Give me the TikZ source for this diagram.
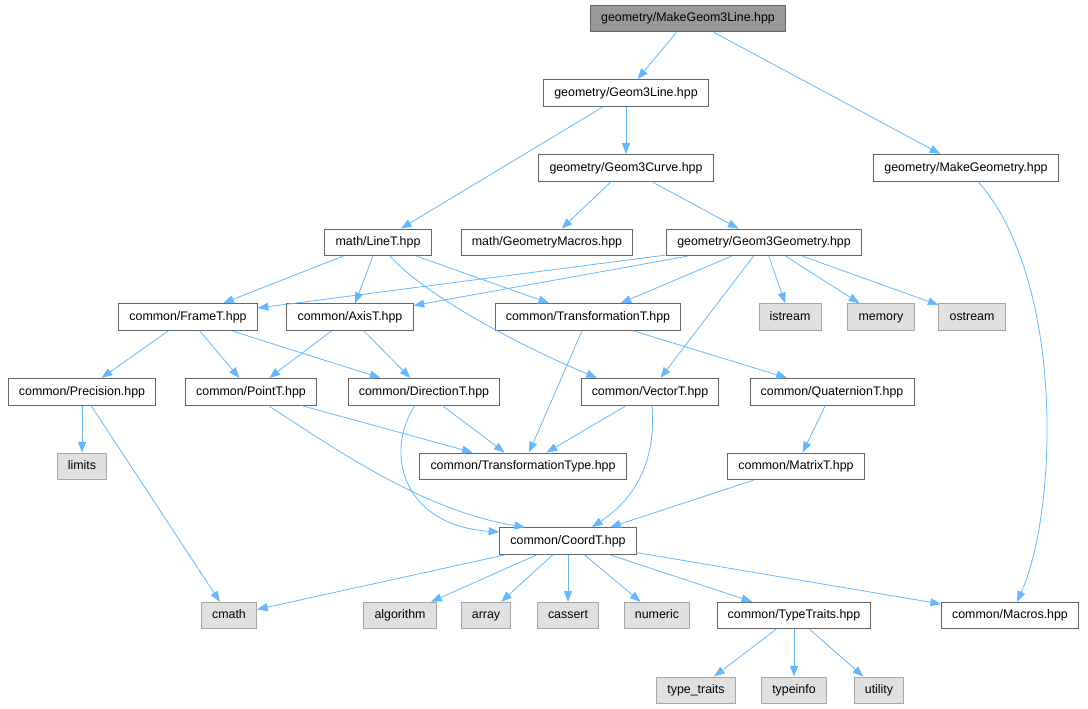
\documentclass[tikz,border=0pt]{standalone}
\usepackage{fontspec}
\setmainfont{Liberation Sans}
\usetikzlibrary{arrows.meta,calc}
\definecolor{edgeblue}{HTML}{63B8FF}
\definecolor{boxline}{HTML}{666666}
\definecolor{sysline}{HTML}{A6A6A6}
\definecolor{sysfill}{HTML}{E0E0E0}
\definecolor{rootfill}{HTML}{999999}

\begin{document}
\begin{tikzpicture}[x=0.75pt,y=-0.75pt,>={Triangle[length=8pt,width=6pt]},
  file/.style={draw=boxline,fill=white,line width=0.7pt,inner xsep=8pt,minimum height=20pt,
    text height=7pt,text depth=2pt,font=\fontsize{9.3}{11}\selectfont},
  sys/.style={file,draw=sysline,fill=sysfill},
  root/.style={file,fill=rootfill},
  dep/.style={->,color=edgeblue,line width=0.6pt}]
\useasboundingbox (0,0) rectangle (1088,709);

% headers
\node[root] (mk3line) at (688,18.5) {geometry/MakeGeom3Line.hpp};
\node[file] (geom3line) at (626,93) {geometry/Geom3Line.hpp};
\node[file] (geom3curve) at (626,167.7) {geometry/Geom3Curve.hpp};
\node[file] (makegeo) at (966,167.7) {geometry/MakeGeometry.hpp};
\node[file] (linet) at (378,242.4) {math/LineT.hpp};
\node[file] (geomacros) at (547,242.4) {math/GeometryMacros.hpp};
\node[file] (geom3geo) at (764,242.4) {geometry/Geom3Geometry.hpp};
\node[file] (framet) at (188,317) {common/FrameT.hpp};
\node[file] (axist) at (350,317) {common/AxisT.hpp};
\node[file] (transft) at (588,317) {common/TransformationT.hpp};
\node[sys] (istream) at (790,317) {istream};
\node[sys] (memory) at (881,317) {memory};
\node[sys] (ostream) at (972,317) {ostream};
\node[file] (precision) at (82,391.7) {common/Precision.hpp};
\node[file] (pointt) at (251,391.7) {common/PointT.hpp};
\node[file] (directiont) at (424,391.7) {common/DirectionT.hpp};
\node[file] (vectort) at (650,391.7) {common/VectorT.hpp};
\node[file] (quatt) at (832,391.7) {common/QuaternionT.hpp};
\node[sys] (limits) at (82,466.3) {limits};
\node[file] (transftype) at (523,466.3) {common/TransformationType.hpp};
\node[file] (matrixt) at (796,466.3) {common/MatrixT.hpp};
\node[file] (coordt) at (568,541) {common/CoordT.hpp};
\node[sys] (cmath) at (229,615.6) {cmath};
\node[sys] (algorithm) at (400,615.6) {algorithm};
\node[sys] (array) at (486,615.6) {array};
\node[sys] (cassert) at (568,615.6) {cassert};
\node[sys] (numeric) at (657,615.6) {numeric};
\node[file] (typetraits) at (794,615.6) {common/TypeTraits.hpp};
\node[file] (macros) at (1010,615.6) {common/Macros.hpp};
\node[sys] (stdtraits) at (696,690.3) {type\_traits};
\node[sys] (typeinfo) at (794,690.3) {typeinfo};
\node[sys] (utility) at (879,690.3) {utility};

% includes
\foreach \from/\to in {mk3line/geom3line, mk3line/makegeo,
    geom3line/geom3curve, geom3line/linet,
    geom3curve/geomacros, geom3curve/geom3geo,
    linet/framet, linet/axist, linet/transft,
    geom3geo/framet, geom3geo/axist, geom3geo/transft, geom3geo/vectort,
    geom3geo/istream, geom3geo/memory, geom3geo/ostream,
    framet/precision, framet/pointt, framet/directiont,
    axist/pointt, axist/directiont,
    transft/transftype, transft/quatt,
    precision/limits, precision/cmath,
    pointt/transftype, directiont/transftype, vectort/transftype,
    quatt/matrixt, matrixt/coordt,
    coordt/cmath, coordt/algorithm, coordt/array, coordt/cassert,
    coordt/numeric, coordt/typetraits, coordt/macros,
    typetraits/stdtraits, typetraits/typeinfo, typetraits/utility}
  \draw[dep] (\from) -- (\to);

% bent ones
\draw[dep] ($(makegeo.south)+(12,0)$) .. controls (1065,280) and (1058,510) .. ($(macros.north)+(7,0)$);
\draw[dep] ($(linet.south)+(12,0)$) .. controls (430,300) and (530,350) .. ($(vectort.north)+(-53,0)$);
\draw[dep] ($(pointt.south)+(17,0)$) .. controls (330,445) and (420,510) .. ($(coordt.north)+(-43,0)$);
\draw[dep] ($(directiont.south)+(-9,0)$) .. controls (385,450) and (400,525) .. ($(coordt.west)+(0,-9)$);
\draw[dep] ($(vectort.south)+(2,0)$) .. controls (656,455) and (640,495) .. ($(coordt.north)+(24,0)$);
\end{tikzpicture}
\end{document}
